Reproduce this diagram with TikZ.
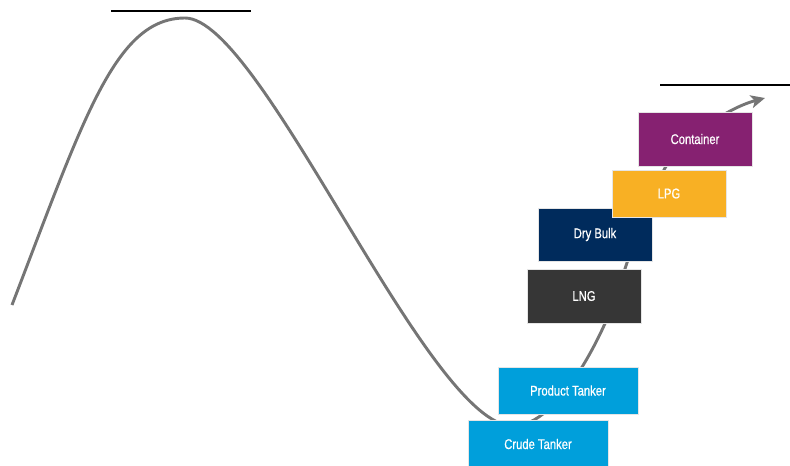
\documentclass[tikz,border=0pt]{standalone}
\usepackage{fontspec}
\newfontfamily\boxfont[FakeStretch=0.8, FakeBold=0.6]{Liberation Sans}
\usetikzlibrary{arrows.meta}

\definecolor{curvegray}{HTML}{757575}
\definecolor{contpurple}{HTML}{862171}
\definecolor{lpgorange}{HTML}{F8B024}
\definecolor{bulknavy}{HTML}{002B5C}
\definecolor{lnggray}{HTML}{363636}
\definecolor{tankblue}{HTML}{009FDB}

\tikzset{
	sector/.style={rectangle, minimum width=3.42cm, minimum height=1.6cm, text=white,
		font=\boxfont\fontsize{12}{14}\selectfont, draw=white!80!gray, line width=0.4pt},
	tanker/.style={sector, fill=tankblue, minimum width=4.2cm, minimum height=1.41cm},
	level/.style={line width=1.6pt, black}
}

\begin{document}
\begin{tikzpicture}[x=0.03cm, y=-0.03cm]
		\useasboundingbox (0,0) rectangle (790,465);
		
		% the cycle curve: peak, trough, recovery
		\coordinate (start) at (12,305);
		\coordinate (peak) at (185,18);
		\coordinate (trough) at (513,426);
		\coordinate (turn1) at (616,296);
		\coordinate (turn2) at (665,168);
		\coordinate (tip) at (765,98);
		\draw[curvegray, line width=2.5pt, -{Stealth[length=12pt, width=11pt, inset=3pt]}]
			(start) .. controls (84,118) and (115,18) .. (peak)
			.. controls (262,18) and (428,426) .. (trough)
			.. controls (560,426) and (605,329) .. (turn1)
			.. controls (628.6,258) and (645.6,203) .. (turn2)
			.. controls (679.6,141.8) and (724.5,108.8) .. (tip);
		
		% levels
		\draw[level] (111,11) -- (251,11);
		\draw[level] (660,85) -- (790,85);
		
		% sectors along the recovery
		\node[tanker] (crude) at (538,444) {Crude Tanker};
		\node[tanker] (product) at (568,390.5) {Product Tanker};
		\node[sector, fill=lnggray, minimum height=1.62cm] (lng) at (584,296) {LNG};
		\node[sector, fill=bulknavy, minimum height=1.59cm] (drybulk) at (595,234.5) {Dry Bulk};
		\node[sector, fill=lpgorange, minimum height=1.41cm] (lpg) at (669,193.5) {LPG};
		\node[sector, fill=contpurple, minimum height=1.62cm] (container) at (695,139) {Container};
	\end{tikzpicture}
\end{document}
